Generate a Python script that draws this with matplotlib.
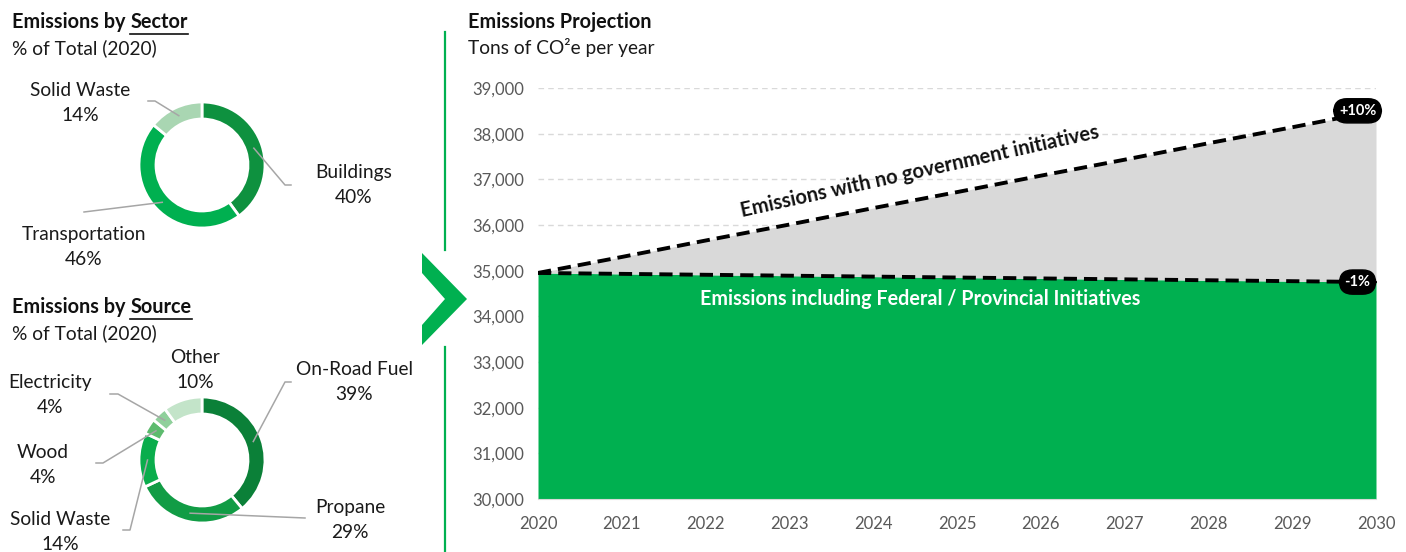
import numpy as np
import matplotlib.pyplot as plt
from matplotlib.lines import Line2D
from matplotlib.patches import Polygon

plt.rcParams['font.family'] = ['Lato', 'DejaVu Sans']

# data
sector_labels = ['Buildings', 'Transportation', 'Solid Waste']
sector_pct = [40, 46, 14]
sector_colors = ['#0e913f', '#00b050', '#a9d6b2']

source_labels = ['On-Road Fuel', 'Propane', 'Solid Waste', 'Wood', 'Electricity', 'Other']
source_pct = [39, 29, 14, 4, 4, 10]
source_colors = ['#0b8038', '#119c45', '#0aad4c', '#5dbb6e', '#8fd09b', '#c3e4c9']

years = [2020, 2021, 2022, 2023, 2024, 2025, 2026, 2027, 2028, 2029, 2030]
no_initiatives = [34950, 35300, 35660, 36010, 36370, 36720, 37080, 37430, 37790, 38140, 38500]
with_initiatives = [34950, 34930, 34910, 34890, 34870, 34850, 34830, 34810, 34790, 34770, 34750]
base = 30000

W, H = 1406, 552
fig = plt.figure(figsize=(W / 100, H / 100), dpi=100)


def fp(x, y):
    return (x / W, 1 - y / H)


def fig_text(x, y, s, **kw):
    return fig.text(x / W, 1 - y / H, s, **kw)


renderer = fig.canvas.get_renderer()


def title_underlined(x, y, first, word):
    t1 = fig_text(x, y, first, fontsize=14.3, fontweight='bold', va='center', color='#111111')
    bb = t1.get_window_extent(renderer)
    t2 = fig.text(bb.x1 / W, 1 - y / H, word, fontsize=14.3, fontweight='bold', va='center', color='#111111')
    bb2 = t2.get_window_extent(renderer)
    yl = bb2.y0 - 1.5
    fig.add_artist(Line2D([bb2.x0 / W, bb2.x1 / W], [yl / H, yl / H], color='#111111', lw=1.2))


# donut charts
R_OUT, R_IN = 63, 46


def donut(cx, cy, pct, colors, labels, label_pos, leaders):
    half = 72
    ax = fig.add_axes([(cx - half) / W, 1 - (cy + half) / H, 2 * half / W, 2 * half / H])
    ax.pie(pct, colors=colors, startangle=90, counterclock=False, radius=R_OUT / half,
           wedgeprops=dict(width=(R_OUT - R_IN) / half, edgecolor='white', linewidth=2))
    ax.set_xlim(-1, 1)
    ax.set_ylim(-1, 1)
    ax.set_aspect('equal')
    ax.axis('off')
    cum = np.cumsum([0] + list(pct))
    rmid = (R_OUT + R_IN) / 2
    for i, lab in enumerate(labels):
        lx, ly = label_pos[i]
        fig_text(lx, ly, f'{lab}\n{pct[i]}%', fontsize=13.8, ha='center', va='center',
                 color='#1a1a1a', linespacing=1.55)
        if leaders[i] is None:
            continue
        ang = np.deg2rad(90 - 3.6 * (cum[i] + cum[i + 1]) / 2)
        ax_x = cx + rmid * np.cos(ang)
        ax_y = cy - rmid * np.sin(ang)
        pts = [(ax_x, ax_y)] + leaders[i]
        xs = [p[0] / W for p in pts]
        ys = [1 - p[1] / H for p in pts]
        fig.add_artist(Line2D(xs, ys, color='#a6a6a6', lw=1.1))


title_underlined(12, 22, 'Emissions by ', 'Sector')
fig_text(12, 48, '% of Total (2020)', fontsize=13.8, va='center', color='#1a1a1a')
donut(202, 165, sector_pct, sector_colors, sector_labels,
      [(354, 185), (84, 247), (80, 103)],
      [[(285, 185), (291, 185)], [(84, 212)], [(155, 101), (148, 101)]])

title_underlined(12, 307, 'Emissions by ', 'Source')
fig_text(12, 333, '% of Total (2020)', fontsize=13.8, va='center', color='#1a1a1a')
donut(202, 460, source_pct, source_colors, source_labels,
      [(354, 382), (350, 520), (60, 532), (43, 465), (50, 395), (195, 370)],
      [[(285, 382), (291, 382)], [(305, 518)], [(130, 530), (123, 530)],
       [(103, 463), (96, 463)], [(118, 394), (110, 394)], None])

# divider and chevron
fig.add_artist(Line2D([445 / W, 445 / W], [1 - 32 / H, 1 - 250 / H], color='#00b050', lw=1.6))
fig.add_artist(Line2D([445 / W, 445 / W], [1 - 347 / H, 0], color='#00b050', lw=1.6))
chev = [(422, 253), (467, 299), (422, 345), (422, 325), (445, 299), (422, 273)]
fig.add_artist(Polygon([fp(x, y) for x, y in chev], closed=True, facecolor='#00b050',
                       edgecolor='none', transform=fig.transFigure))

# projection chart
fig_text(468, 22, 'Emissions Projection', fontsize=14.3, fontweight='bold', va='center', color='#111111')
fig_text(468, 48, 'Tons of CO²e per year', fontsize=13.8, va='center', color='#1a1a1a')

ax = fig.add_axes([538 / W, 1 - 499 / H, (1376 - 538) / W, (499 - 88) / H])
ax.fill_between(years, base, with_initiatives, color='#00b050', lw=0, zorder=2)
ax.fill_between(years, with_initiatives, no_initiatives, color='#d9d9d9', lw=0, zorder=2)
ax.plot(years, no_initiatives, color='black', lw=2.8, dashes=(3.4, 1.8), zorder=3)
ax.plot(years, with_initiatives, color='black', lw=2.8, dashes=(3.4, 1.8), zorder=3)
ax.set_xlim(2020, 2030)
ax.set_ylim(30000, 39000)
ax.set_xticks(years)
ax.set_yticks(range(30000, 39001, 1000))
ax.yaxis.set_major_formatter(plt.FuncFormatter(lambda v, p: f'{int(v):,}'))
ax.tick_params(length=0, labelsize=12, labelcolor='#595959', pad=10)
ax.tick_params(axis='x', pad=12)
ax.grid(axis='y', color='#d9d9d9', ls=(0, (4, 3)), lw=1, zorder=1)
for s in ['top', 'right', 'left']:
    ax.spines[s].set_visible(False)
ax.spines['bottom'].set_color('#d9d9d9')
ax.set_axisbelow(True)

ax.text(2029.78, no_initiatives[-1], '+10%', fontsize=10.5, fontweight='bold', color='white',
        ha='center', va='center', zorder=5,
        bbox=dict(boxstyle='round,pad=0.35,rounding_size=0.9', fc='black', ec='black'))
ax.text(2029.78, with_initiatives[-1], '-1%', fontsize=10.5, fontweight='bold', color='white',
        ha='center', va='center', zorder=5,
        bbox=dict(boxstyle='round,pad=0.35,rounding_size=0.9', fc='black', ec='black'))
ax.text(2024.56, 37160, 'Emissions with no government initiatives', fontsize=14.5,
        fontweight='bold', color='#111111', ha='center', va='center', rotation=12.5, zorder=5)
ax.text(2024.56, 34380, 'Emissions including Federal / Provincial Initiatives', fontsize=14.2,
        fontweight='bold', color='white', ha='center', va='center', zorder=5)

fig.savefig('out.png', dpi=100)
